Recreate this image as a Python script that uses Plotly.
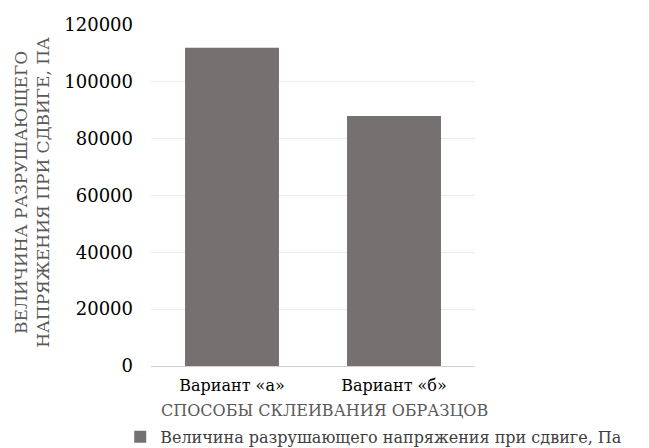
import plotly.graph_objects as go

categories = ["Вариант «а»", "Вариант «б»"]
values = [112000, 88000]
series_name = "Величина разрушающего напряжения при сдвиге, Па"
y_ticks = [0, 20000, 40000, 60000, 80000, 100000, 120000]

FONT = "DejaVu Serif"

fig = go.Figure()
fig.add_trace(go.Bar(
    x=categories, y=values, name=series_name,
    marker=dict(color="#767171", line=dict(width=0)),
    showlegend=True,
))

fig.update_layout(
    width=649, height=448,
    margin=dict(l=151, r=174, t=25, b=82, autoexpand=False),
    paper_bgcolor="white", plot_bgcolor="white",
    bargap=0.42,
    font=dict(family=FONT, size=17, color="#000000"),
    xaxis=dict(
        showgrid=False, showline=False, zeroline=False,
        tickfont=dict(family=FONT, size=16, color="#000000"),
        ticks="outside", ticklen=5, tickcolor="rgba(0,0,0,0)",
    ),
    yaxis=dict(
        range=[0, 120000], tickvals=y_ticks,
        ticktext=[str(v) for v in y_ticks],
        showgrid=True, gridcolor="#ececec", gridwidth=1,
        zeroline=True, zerolinecolor="#cfcfcf", zerolinewidth=1,
        showline=False,
        tickfont=dict(family=FONT, size=18, color="#000000"),
        ticklabelstandoff=17,
    ),
    legend=dict(
        orientation="h", x=-0.095, xanchor="left", y=-0.208, yanchor="middle",
        font=dict(family=FONT, size=16, color="#404040"),
        bgcolor="rgba(0,0,0,0)", itemwidth=30,
    ),
    annotations=[
        dict(text="ВЕЛИЧИНА РАЗРУШАЮЩЕГО<br>НАПРЯЖЕНИЯ ПРИ СДВИГЕ, ПА",
             xref="paper", yref="paper", x=-0.368, y=0.51,
             xanchor="center", yanchor="middle", textangle=-90,
             showarrow=False,
             font=dict(family=FONT, size=17, color="#595959")),
        dict(text="СПОСОБЫ СКЛЕИВАНИЯ ОБРАЗЦОВ",
             xref="paper", yref="paper", x=0.534, y=-0.13,
             xanchor="center", yanchor="middle",
             showarrow=False,
             font=dict(family=FONT, size=16, color="#595959")),
    ],
)

fig.write_html("out.html")
